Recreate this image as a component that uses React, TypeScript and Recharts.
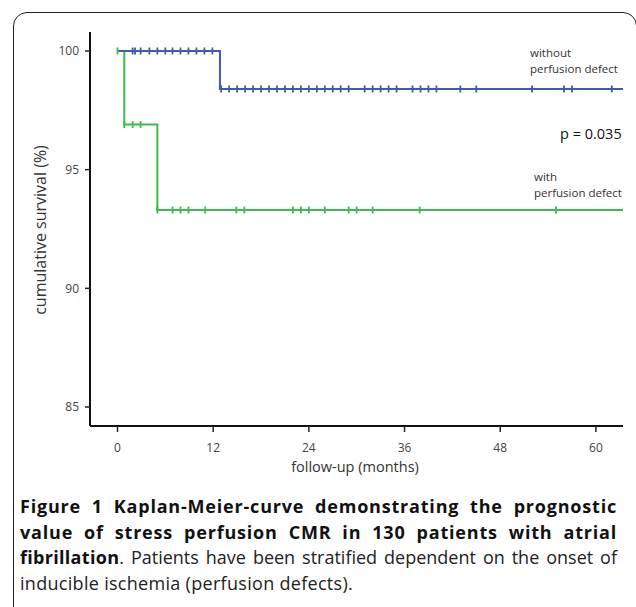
import React from 'react';
import { ComposedChart, Line, Scatter, XAxis, YAxis } from 'recharts';

// Kaplan-Meier step curves (time in months, survival in %)
const withoutTimes = [0, 12.85, 63.4];
const withoutSurv = [100, 98.4, 98.4];
const withTimes = [0, 0.85, 5.0, 63.4];
const withSurv = [100, 96.9, 93.3, 93.3];

// censored observations
const withoutCensor100 = [1.9, 2.2, 2.9, 4, 5, 6, 6.9, 7.9, 8.9, 9.9, 10.9, 11.9];
const withoutCensor984 = [13, 14, 15, 16, 17, 18, 19, 20, 21, 22, 23, 24, 25, 26, 27, 28, 29, 31, 32, 33, 34, 35, 37, 38, 39, 40, 43, 45, 52, 56, 57, 62];
const withCensor100 = [0];
const withCensor969 = [0.85, 1.9, 2.9];
const withCensor933 = [5.0, 6.9, 7.9, 8.9, 11, 14.9, 15.9, 22, 23, 24, 26, 29, 30, 32, 37.9, 55];

const xTicks = [0, 12, 24, 36, 48, 60];
const yTicks = [85, 90, 95, 100];

const BLUE = '#3d5cad';
const GREEN = '#3fba4f';
const FONT = '"Open Sans", "Noto Sans", sans-serif';

const steps = (ts: number[], ss: number[]) => ts.map((t, i) => ({ t, s: ss[i] }));
const marks = (ts: number[], s: number) => ts.map((t) => ({ t, s }));

const blueLine = steps(withoutTimes, withoutSurv);
const greenLine = steps(withTimes, withSurv);
const blueMarks = [...marks(withoutCensor100, 100), ...marks(withoutCensor984, 98.4)];
const greenMarks = [...marks(withCensor100, 100), ...marks(withCensor969, 96.9), ...marks(withCensor933, 93.3)];

const tickShape = (color: string) => (props: any) => {
  const { cx, cy } = props;
  return <line x1={cx} y1={cy - 3.5} x2={cx} y2={cy + 3.5} stroke={color} strokeWidth={1.8} />;
};

const abs = (left: number, top: number, extra: React.CSSProperties = {}): React.CSSProperties => ({
  position: 'absolute', left, top, fontFamily: FONT, whiteSpace: 'nowrap', lineHeight: 1, ...extra,
});

export default function App() {
  return (
    <div style={{ position: 'absolute', left: 0, top: 0, width: 636, height: 607, overflow: 'hidden', background: '#fff' }}>
      <div style={{ position: 'absolute', left: 13, top: 12, width: 624, height: 640, border: '1.5px solid #222', borderRadius: 14, boxSizing: 'border-box' }} />
      <div style={{ position: 'absolute', left: 0, top: 0 }}>
        <ComposedChart width={636} height={470} margin={{ top: 32, left: 30, right: 13, bottom: 14 }}>
          <XAxis
            type="number"
            dataKey="t"
            domain={[-3.45, 63.4]}
            ticks={xTicks}
            allowDataOverflow
            height={30}
            tickSize={6}
            tickMargin={11}
            axisLine={{ stroke: '#111', strokeWidth: 2 }}
            tickLine={{ stroke: '#222', strokeWidth: 1.5 }}
            tick={{ fill: '#444', fontSize: 12, fontFamily: FONT }}
          />
          <YAxis
            type="number"
            dataKey="s"
            domain={[84.2, 100.8]}
            ticks={yTicks}
            allowDataOverflow
            width={60}
            tickSize={5}
            tickMargin={6}
            axisLine={{ stroke: '#111', strokeWidth: 2 }}
            tickLine={{ stroke: '#222', strokeWidth: 1.5 }}
            tick={{ fill: '#444', fontSize: 12, fontFamily: FONT }}
          />
          <Line data={greenLine} dataKey="s" type="stepAfter" stroke={GREEN} strokeWidth={2} dot={false} isAnimationActive={false} />
          <Line data={blueLine} dataKey="s" type="stepAfter" stroke={BLUE} strokeWidth={2} dot={false} isAnimationActive={false} />
          <Scatter data={greenMarks} dataKey="s" shape={tickShape(GREEN)} isAnimationActive={false} />
          <Scatter data={blueMarks} dataKey="s" shape={tickShape(BLUE)} isAnimationActive={false} />
        </ComposedChart>
      </div>

      <div style={abs(530, 47, { fontSize: 11.5, color: '#333' })}>without</div>
      <div style={abs(530, 63, { fontSize: 11.5, color: '#333' })}>perfusion defect</div>
      <div style={abs(560, 127, { fontSize: 14.5, color: '#111' })}>p = 0.035</div>
      <div style={abs(534, 171, { fontSize: 11.5, color: '#333' })}>with</div>
      <div style={abs(534, 187, { fontSize: 11.5, color: '#333' })}>perfusion defect</div>

      <div style={abs(40, 230, { fontSize: 16, color: '#333', transform: 'translate(-50%, -50%) rotate(-90deg)' })}>cumulative survival (%)</div>
      <div style={abs(355, 467, { fontSize: 14.5, color: '#333', transform: 'translate(-50%, -50%)' })}>follow-up (months)</div>

      <div style={{ position: 'absolute', left: 20, top: 494, width: 597, fontFamily: FONT, fontSize: 18, lineHeight: '25.5px', color: '#111' }}>
        <div style={{ textAlign: 'justify', textAlignLast: 'justify', fontWeight: 700, letterSpacing: 0.8 }}>Figure 1 Kaplan-Meier-curve demonstrating the prognostic</div>
        <div style={{ textAlign: 'justify', textAlignLast: 'justify', fontWeight: 700, letterSpacing: 0.8 }}>value of stress perfusion CMR in 130 patients with atrial</div>
        <div style={{ textAlign: 'justify', textAlignLast: 'justify', color: '#222', letterSpacing: 0 }}>
          <span style={{ fontWeight: 700, color: '#111', letterSpacing: 0.3 }}>fibrillation</span>. Patients have been stratified dependent on the onset of
        </div>
        <div style={{ color: '#222', letterSpacing: 0.3 }}>inducible ischemia (perfusion defects).</div>
      </div>
    </div>
  );
}
